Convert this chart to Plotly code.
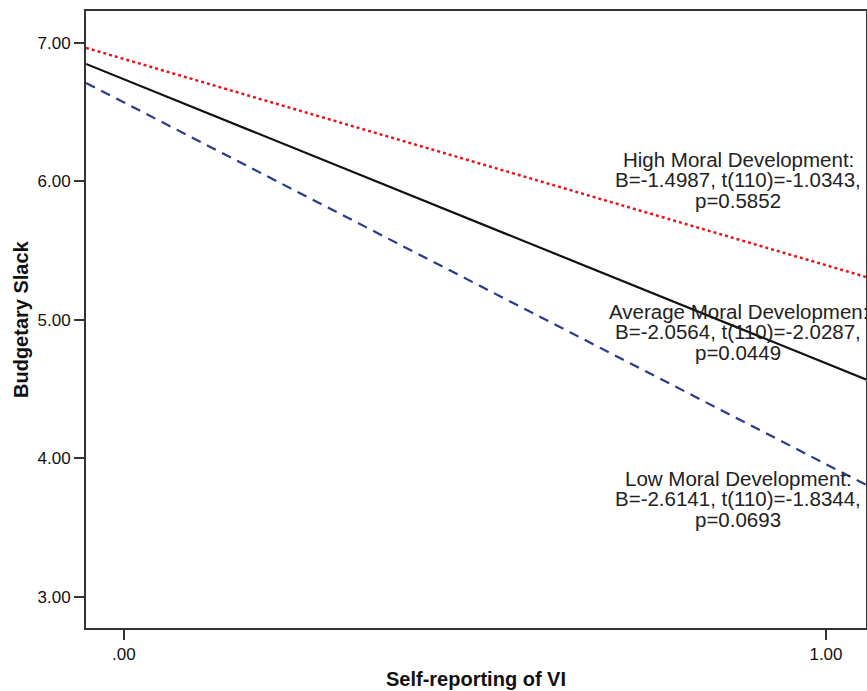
import plotly.graph_objects as go

# Data: fitted lines over the x-axis span
x_span = [-0.054, 1.057]
high_vals = [6.964, 5.31]
avg_vals = [6.848, 4.57]
low_vals = [6.711, 3.81]

x_tickvals = [0, 1]
x_ticktext = [".00", "1.00"]
y_tickvals = [3, 4, 5, 6, 7]
y_ticktext = ["3.00", "4.00", "5.00", "6.00", "7.00"]

label_high = ["High Moral Development:", "B=-1.4987, t(110)=-1.0343,", "p=0.5852"]
label_avg = ["Average Moral Developmen:", "B=-2.0564, t(110)=-2.0287,", "p=0.0449"]
label_low = ["Low Moral Development:", "B=-2.6141, t(110)=-1.8344,", "p=0.0693"]
label_x = 0.875
label_y = [6.011, 4.913, 3.708]

FONT = "Arial, 'Liberation Sans', Helvetica, sans-serif"

W, H = 867, 691
ML, MR, MT, MB = 86, 1, 11, 63
PW, PH = W - ML - MR, H - MT - MB

fig = go.Figure()
fig.add_trace(go.Scatter(x=x_span, y=high_vals, mode="lines",
                         line=dict(color="#e3161d", width=2.5, dash="dot"),
                         name="High", showlegend=False))
fig.add_trace(go.Scatter(x=x_span, y=avg_vals, mode="lines",
                         line=dict(color="#111111", width=2.2),
                         name="Average", showlegend=False))
fig.add_trace(go.Scatter(x=x_span, y=low_vals, mode="lines",
                         line=dict(color="#2b3a8c", width=2.2, dash="10px,7px"),
                         name="Low", showlegend=False))

for lines, yc in zip([label_high, label_avg, label_low], label_y):
    for i, t in enumerate(lines):
        fig.add_annotation(x=label_x, y=yc, xref="x", yref="y", text=t,
                           showarrow=False, xanchor="center", yanchor="middle",
                           yshift=(1 - i) * 20.5, borderpad=0,
                           font=dict(family=FONT, size=20.5, color="#222222"))

# axis titles
fig.add_annotation(x=(21 - ML) / PW, y=(H - MB - 319) / PH, xref="paper", yref="paper",
                   text="<b>Budgetary Slack</b>", textangle=-90, showarrow=False,
                   xanchor="center", yanchor="middle",
                   font=dict(family=FONT, size=20, color="#111111"))
fig.add_annotation(x=(476 - ML) / PW, y=(H - MB - 679) / PH, xref="paper", yref="paper",
                   text="<b>Self-reporting of VI</b>", showarrow=False,
                   xanchor="center", yanchor="middle",
                   font=dict(family=FONT, size=20, color="#111111"))

fig.update_layout(
    width=W, height=H,
    margin=dict(l=ML, r=MR, t=MT, b=MB, autoexpand=False),
    paper_bgcolor="white", plot_bgcolor="white",
    font=dict(family=FONT, color="#111111"),
)
fig.update_xaxes(range=x_span, tickvals=x_tickvals, ticktext=x_ticktext,
                 showgrid=False, zeroline=False, showline=True, mirror=True,
                 automargin=False,
                 linecolor="#333333", linewidth=2, ticks="outside", ticklen=10,
                 tickwidth=2, tickcolor="#333333",
                 tickfont=dict(family=FONT, size=17, color="#111111"))
fig.update_yaxes(range=[2.776, 7.23], tickvals=y_tickvals, ticktext=y_ticktext,
                 showgrid=False, zeroline=False, showline=True, mirror=True,
                 automargin=False,
                 linecolor="#333333", linewidth=2, ticks="outside", ticklen=10,
                 tickwidth=2, tickcolor="#333333",
                 tickfont=dict(family=FONT, size=17, color="#111111"))

fig.write_html("out.html", config={"displayModeBar": False},
               post_script="document.body.style.margin='0';document.body.style.overflow='hidden';")
